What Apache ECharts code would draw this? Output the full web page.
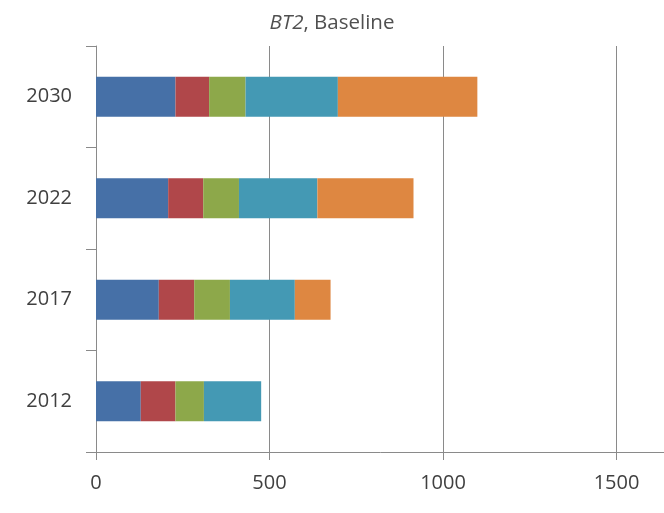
<!DOCTYPE html>
<html>
<head>
<meta charset="utf-8">
<script src="https://cdn.jsdelivr.net/npm/echarts@6/dist/echarts.min.js"></script>
<style>html,body{margin:0;padding:0;background:#fff;overflow:hidden;}#c{width:664px;height:513px;}</style>
</head>
<body>
<div id="c"></div>
<script>
const years = ['2012', '2017', '2022', '2030'];
const s1 = [129, 181, 208, 229];
const s2 = [100, 102, 101, 97];
const s3 = [82, 103, 103, 105];
const s4 = [165, 187, 226, 266];
const s5 = [0, 103, 277, 402];
const xTicks = [0, 500, 1000, 1500];
const colors = ['#4670A7', '#B0474A', '#8DA84A', '#4499B4', '#DE8741'];
const seriesData = [s1, s2, s3, s4, s5];

const chart = echarts.init(document.getElementById('c'), null, {renderer: 'canvas'});
const FONT = 'Open Sans';
chart.setOption({
  animation: false,
  title: {
    text: '{i|BT2}, Baseline',
    left: 'center',
    top: 8,
    textStyle: {
      fontFamily: FONT, fontSize: 20.5, fontWeight: 'normal', color: '#505050',
      rich: { i: { fontFamily: FONT, fontSize: 20.5, fontStyle: 'italic', color: '#505050' } }
    }
  },
  grid: { left: 96, top: 46, bottom: 61, width: 624.6, containLabel: false, outerBoundsMode: 'none' },
  xAxis: {
    type: 'value', min: 0, max: 1800, interval: 500,
    axisLine: { show: true, lineStyle: { color: '#8a8a8a', width: 1 } },
    axisTick: { show: true, length: 8, lineStyle: { color: '#8a8a8a' } },
    splitLine: { show: true, lineStyle: { color: '#8a8a8a', width: 1 } },
    axisLabel: {
      fontFamily: FONT, fontSize: 20, color: '#404040', margin: 21, showMaxLabel: false,
      formatter: v => xTicks.indexOf(v) >= 0 ? String(v) : ''
    }
  },
  yAxis: {
    type: 'category', data: years,
    axisLine: { show: true, lineStyle: { color: '#8a8a8a', width: 1 } },
    axisTick: { show: true, length: 10, alignWithLabel: false, lineStyle: { color: '#8a8a8a' } },
    axisLabel: { fontFamily: FONT, fontSize: 20, color: '#404040', margin: 24 }
  },
  series: seriesData.map((d, i) => ({
    type: 'bar', stack: 'total', data: d, barWidth: 40,
    itemStyle: { color: colors[i] }
  }))
});
</script>
</body>
</html>
